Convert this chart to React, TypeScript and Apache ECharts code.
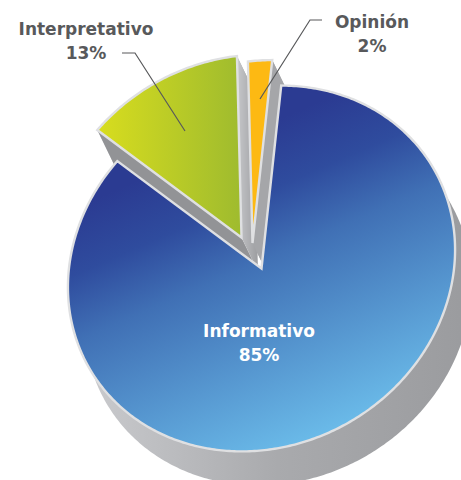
import React, { useEffect, useRef } from "react";
import * as echarts from "echarts";

const CATEGORIES = ["Informativo", "Interpretativo", "Opinión"];
const VALUES = [85, 13, 2];

// Pie drawn in a tilted plane: unit circle -> rotated ellipse
const CX = 261.5, CY = 268.5, AX = 199, BX = 177, TILT = (-30.5 * Math.PI) / 180;
const START_DEG = -56.5;
const DEPTH = { x: 16.5, y: 34 };
const EXPLODE = [{ x: 0, y: 0 }, { x: -20, y: -31 }, { x: -9, y: -25.5 }];
const LAYER = [{ wall: 0, face: 5 }, { wall: 1, face: 2 }, { wall: 3, face: 4 }];
const EDGE = "#dfe0e2";
const INK = "#58595b";

const FACES = [
  new echarts.graphic.LinearGradient(88, 202, 224, 515, [
    { offset: 0, color: "#2b3b92" },
    { offset: 0.18, color: "#2f4c9e" },
    { offset: 0.36, color: "#4070b5" },
    { offset: 1, color: "#72c8f2" },
  ], true),
  new echarts.graphic.LinearGradient(98, 0, 238, 0, [
    { offset: 0, color: "#d8dd1e" },
    { offset: 1, color: "#a0bc2e" },
  ], true),
  "#fdb913",
];
const ARC_WALL = new echarts.graphic.LinearGradient(95, 0, 460, 0, [
  { offset: 0, color: "#c8c9cc" },
  { offset: 0.5, color: "#a9aaad" },
  { offset: 1, color: "#9b9c9f" },
], true);
const RADIAL_WALLS = ["#97989b", "#929396", "#a5a6a9"];
const UPRIGHT_WALL = new echarts.graphic.LinearGradient(238, 0, 258, 0, [
  { offset: 0, color: "#c4c5c8" },
  { offset: 1, color: "#9c9da0" },
], true);

const LABELS = [
  { x: 259, y: 343, color: "#ffffff", line: null },
  { x: 86, y: 41, color: INK, line: [[122, 53], [135, 53], [185, 131]] },
  { x: 372, y: 34, color: INK, line: [[322, 20], [310, 20], [260, 99]] },
];

function project(deg: number, ox: number, oy: number): number[] {
  const a = (deg * Math.PI) / 180;
  const u = AX * Math.cos(a), v = BX * Math.sin(a);
  return [
    CX + ox + u * Math.cos(TILT) - v * Math.sin(TILT),
    CY + oy + u * Math.sin(TILT) + v * Math.cos(TILT),
  ];
}

function renderSlice(params: any, api: any) {
  const i = params.dataIndex;
  const value = api.value(0);
  const total = VALUES.reduce((s, v) => s + v, 0);
  const before = VALUES.slice(0, i).reduce((s, v) => s + v, 0);
  const a0 = START_DEG + (before / total) * 360;
  const a1 = a0 + (value / total) * 360;
  const off = EXPLODE[i];
  const apex = [CX + off.x, CY + off.y];
  const arc: number[][] = [];
  const steps = Math.max(6, Math.ceil((a1 - a0) / 0.75));
  for (let k = 0; k <= steps; k++) arc.push(project(a0 + ((a1 - a0) * k) / steps, off.x, off.y));
  const shift = (p: number[]) => [p[0] + DEPTH.x, p[1] + DEPTH.y];
  const layer = LAYER[i];
  const children: any[] = [];
  const poly = (points: number[][], fill: any, z2: number, stroke?: string) => ({
    type: "polygon",
    z2,
    shape: { points },
    style: stroke ? { fill, stroke, lineWidth: 2.4, lineJoin: "miter" } : { fill },
  });
  const last = arc[arc.length - 1];
  // extrusion
  children.push(poly(arc.concat(arc.slice().reverse().map(shift)), ARC_WALL, layer.wall));
  children.push(poly([apex, arc[0], shift(arc[0]), shift(apex)], RADIAL_WALLS[i], layer.wall));
  children.push(poly([apex, last, shift(last), shift(apex)], i === 1 ? UPRIGHT_WALL : RADIAL_WALLS[i], layer.wall));
  // face
  children.push(poly([apex, ...arc], FACES[i], layer.face, EDGE));
  // leader line and label
  const lab = LABELS[i];
  if (lab.line) {
    children.push({
      type: "polyline",
      z2: 6,
      shape: { points: lab.line },
      style: { fill: "none", stroke: INK, lineWidth: 1.2 },
    });
  }
  children.push({
    type: "text",
    z2: 7,
    x: lab.x,
    y: lab.y,
    style: {
      text: CATEGORIES[i] + "\n" + value + "%",
      fill: lab.color,
      font: 'bold 17px "DejaVu Sans", sans-serif',
      lineHeight: 24,
      align: "center",
      verticalAlign: "middle",
    },
  });
  return { type: "group", children };
}

export default function App() {
  const ref = useRef<HTMLDivElement>(null);
  useEffect(() => {
    document.body.style.margin = "0";
    const chart = echarts.init(ref.current!, null, { renderer: "svg" });
    chart.setOption({
      animation: false,
      backgroundColor: "#ffffff",
      series: [
        {
          type: "custom",
          coordinateSystem: "none",
          silent: true,
          clip: false,
          data: VALUES.map((v, i) => ({ name: CATEGORIES[i], value: [v] })),
          renderItem: renderSlice,
        },
      ],
    });
    return () => chart.dispose();
  }, []);
  return <div ref={ref} style={{ width: 461, height: 480 }} />;
}
